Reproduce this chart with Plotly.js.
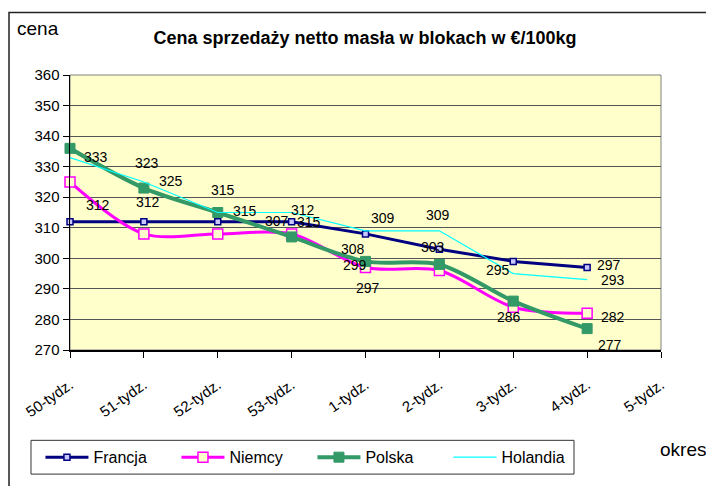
<!DOCTYPE html>
<html>
<head>
<meta charset="utf-8">
<script src="https://cdn.plot.ly/plotly-3.0.1.min.js"></script>
<style>html,body{margin:0;padding:0;background:#fff;}#chart{width:706px;height:486px;}</style>
</head>
<body>
<div id="chart"></div>
<script>
// ---- data ----
const categories = ['50-tydz.','51-tydz.','52-tydz.','53-tydz.','1-tydz.','2-tydz.','3-tydz.','4-tydz.','5-tydz.'];
const francja  = [312, 312, 312, 312, 308, 303, 299, 297];
const niemcy   = [325, 308, 308, 308, 297, 296, 284, 282];
const polska   = [336, 323, 315, 307, 299, 298, 286, 277];
const holandia = [333, 325, 315, 315, 309, 309, 295, 293];
const yTicks = [270, 280, 290, 300, 310, 320, 330, 340, 350, 360];

// ---- styling ----
const FONT = 'Liberation Sans, Arial, sans-serif';
const series = {
  Francja:  {y: francja,  color: '#000080', width: 3, shape: 'linear', marker: {symbol: 'square', size: 6, color: '#c8c8ff', line: {color: '#000080', width: 1.5}}, mode: 'lines+markers'},
  Niemcy:   {y: niemcy,   color: '#ff00ff', width: 3, shape: 'spline', marker: {symbol: 'square', size: 10, color: '#ffffcc', line: {color: '#ff00ff', width: 1.5}}, mode: 'lines+markers'},
  Polska:   {y: polska,   color: '#339966', width: 4, shape: 'spline', marker: {symbol: 'square', size: 10, color: '#339966', line: {color: '#339966', width: 1}}, mode: 'lines+markers'},
  Holandia: {y: holandia, color: '#00ffff', width: 1.2, shape: 'linear', marker: null, mode: 'lines'}
};
// label placement (pixel offsets from each labelled point)
const labelSpots = [
  ['Holandia',0, 26, -1], ['Francja',0, 28,-17],
  ['Polska',1, 3,-25], ['Holandia',1, 27,-1], ['Francja',1, 4,-20],
  ['Polska',2, 5,-23], ['Holandia',2, 27,-2],
  ['Francja',3, 11,-12], ['Polska',3,-15,-16], ['Holandia',3, 17, 9],
  ['Holandia',4, 17,-13], ['Francja',4,-13, 15], ['Polska',4,-11, 4], ['Niemcy',4, 2, 20],
  ['Holandia',5, -1,-16], ['Francja',5, -6, -2],
  ['Holandia',6,-15, -4], ['Polska',6, -4, 16],
  ['Francja',7, 22, -3], ['Holandia',7, 26, 0], ['Niemcy',7, 26, 4], ['Polska',7, 23, 16]
];

const order = ['Francja','Niemcy','Polska','Holandia'];
const traces = order.map(name => {
  const s = series[name];
  const t = {
    type: 'scatter', name: name, mode: s.mode,
    x: categories.slice(0, s.y.length), y: s.y,
    line: {color: s.color, width: s.width, shape: s.shape, smoothing: 0.9},
    cliponaxis: false
  };
  if (s.marker) t.marker = s.marker;
  return t;
});

const annotations = labelSpots.map(([name, i, dx, dy]) => ({
  x: categories[i], y: series[name].y[i], xref: 'x', yref: 'y',
  text: String(series[name].y[i]), showarrow: false,
  xshift: dx, yshift: -dy,
  font: {family: FONT, size: 14, color: '#000'}
}));
annotations.push({
  text: 'cena', xref: 'paper', yref: 'paper', x: -0.054, y: 1.17,
  xanchor: 'center', yanchor: 'middle', showarrow: false,
  font: {family: FONT, size: 19, color: '#000'}
});
annotations.push({
  text: 'okres', xref: 'paper', yref: 'paper', x: 1.037, y: -0.361,
  xanchor: 'center', yanchor: 'middle', showarrow: false,
  font: {family: FONT, size: 19, color: '#000'}
});

const layout = {
  width: 706, height: 486,
  margin: {l: 70, r: 45, t: 75, b: 134},
  paper_bgcolor: '#ffffff',
  plot_bgcolor: '#ffffcc',
  title: {
    text: '<b>Cena sprzedaży netto masła w blokach w €/100kg</b>',
    x: 0.517, xanchor: 'center', xref: 'container',
    y: 0.922, yanchor: 'middle', yref: 'container',
    font: {family: FONT, size: 18, color: '#000'}
  },
  xaxis: {
    type: 'category', categoryorder: 'array', categoryarray: categories,
    range: [0, 8], tickmode: 'array', tickvals: categories, ticktext: categories,
    tickangle: -35, ticks: 'outside', ticklen: 6, tickcolor: '#000', tickwidth: 1,
    showline: true, linecolor: '#000', linewidth: 1.5,
    showgrid: false, zeroline: false, ticklabelstandoff: 13,
    tickfont: {family: FONT, size: 15, color: '#000'}
  },
  yaxis: {
    range: [270, 360], tickmode: 'array', tickvals: yTicks,
    ticks: 'outside', ticklen: 6, tickcolor: '#000',
    showline: true, linecolor: '#000', linewidth: 1.5,
    showgrid: true, gridcolor: '#555', gridwidth: 1, zeroline: false,
    tickfont: {family: FONT, size: 15, color: '#000'}
  },
  showlegend: true,
  legend: {
    orientation: 'h', x: -0.05, y: -0.39, xanchor: 'left', yanchor: 'middle',
    borderwidth: 0, bgcolor: 'rgba(0,0,0,0)',
    font: {family: FONT, size: 16, color: '#000'},
    itemwidth: 43,
    entrywidth: 78, entrywidthmode: 'pixels', traceorder: 'normal'
  },
  shapes: [
    {type: 'rect', xref: 'paper', yref: 'paper', x0: 0, x1: 1, y0: 0, y1: 1,
     line: {color: '#808080', width: 1}, layer: 'below'},
    {type: 'rect', xref: 'paper', yref: 'paper', x0: -0.1032, x1: 1.1, y0: -0.55, y1: 1.2274,
     line: {color: '#222', width: 1.5}, layer: 'below'},
    {type: 'rect', xref: 'paper', yref: 'paper', x0: -0.066, x1: 0.8528, y0: -0.4513, y1: -0.3285,
     line: {color: '#333', width: 1}, fillcolor: 'rgba(0,0,0,0)', layer: 'above'}
  ],
  annotations: annotations
};

Plotly.newPlot('chart', traces, layout, {displayModeBar: false, staticPlot: true});
</script>
</body>
</html>
